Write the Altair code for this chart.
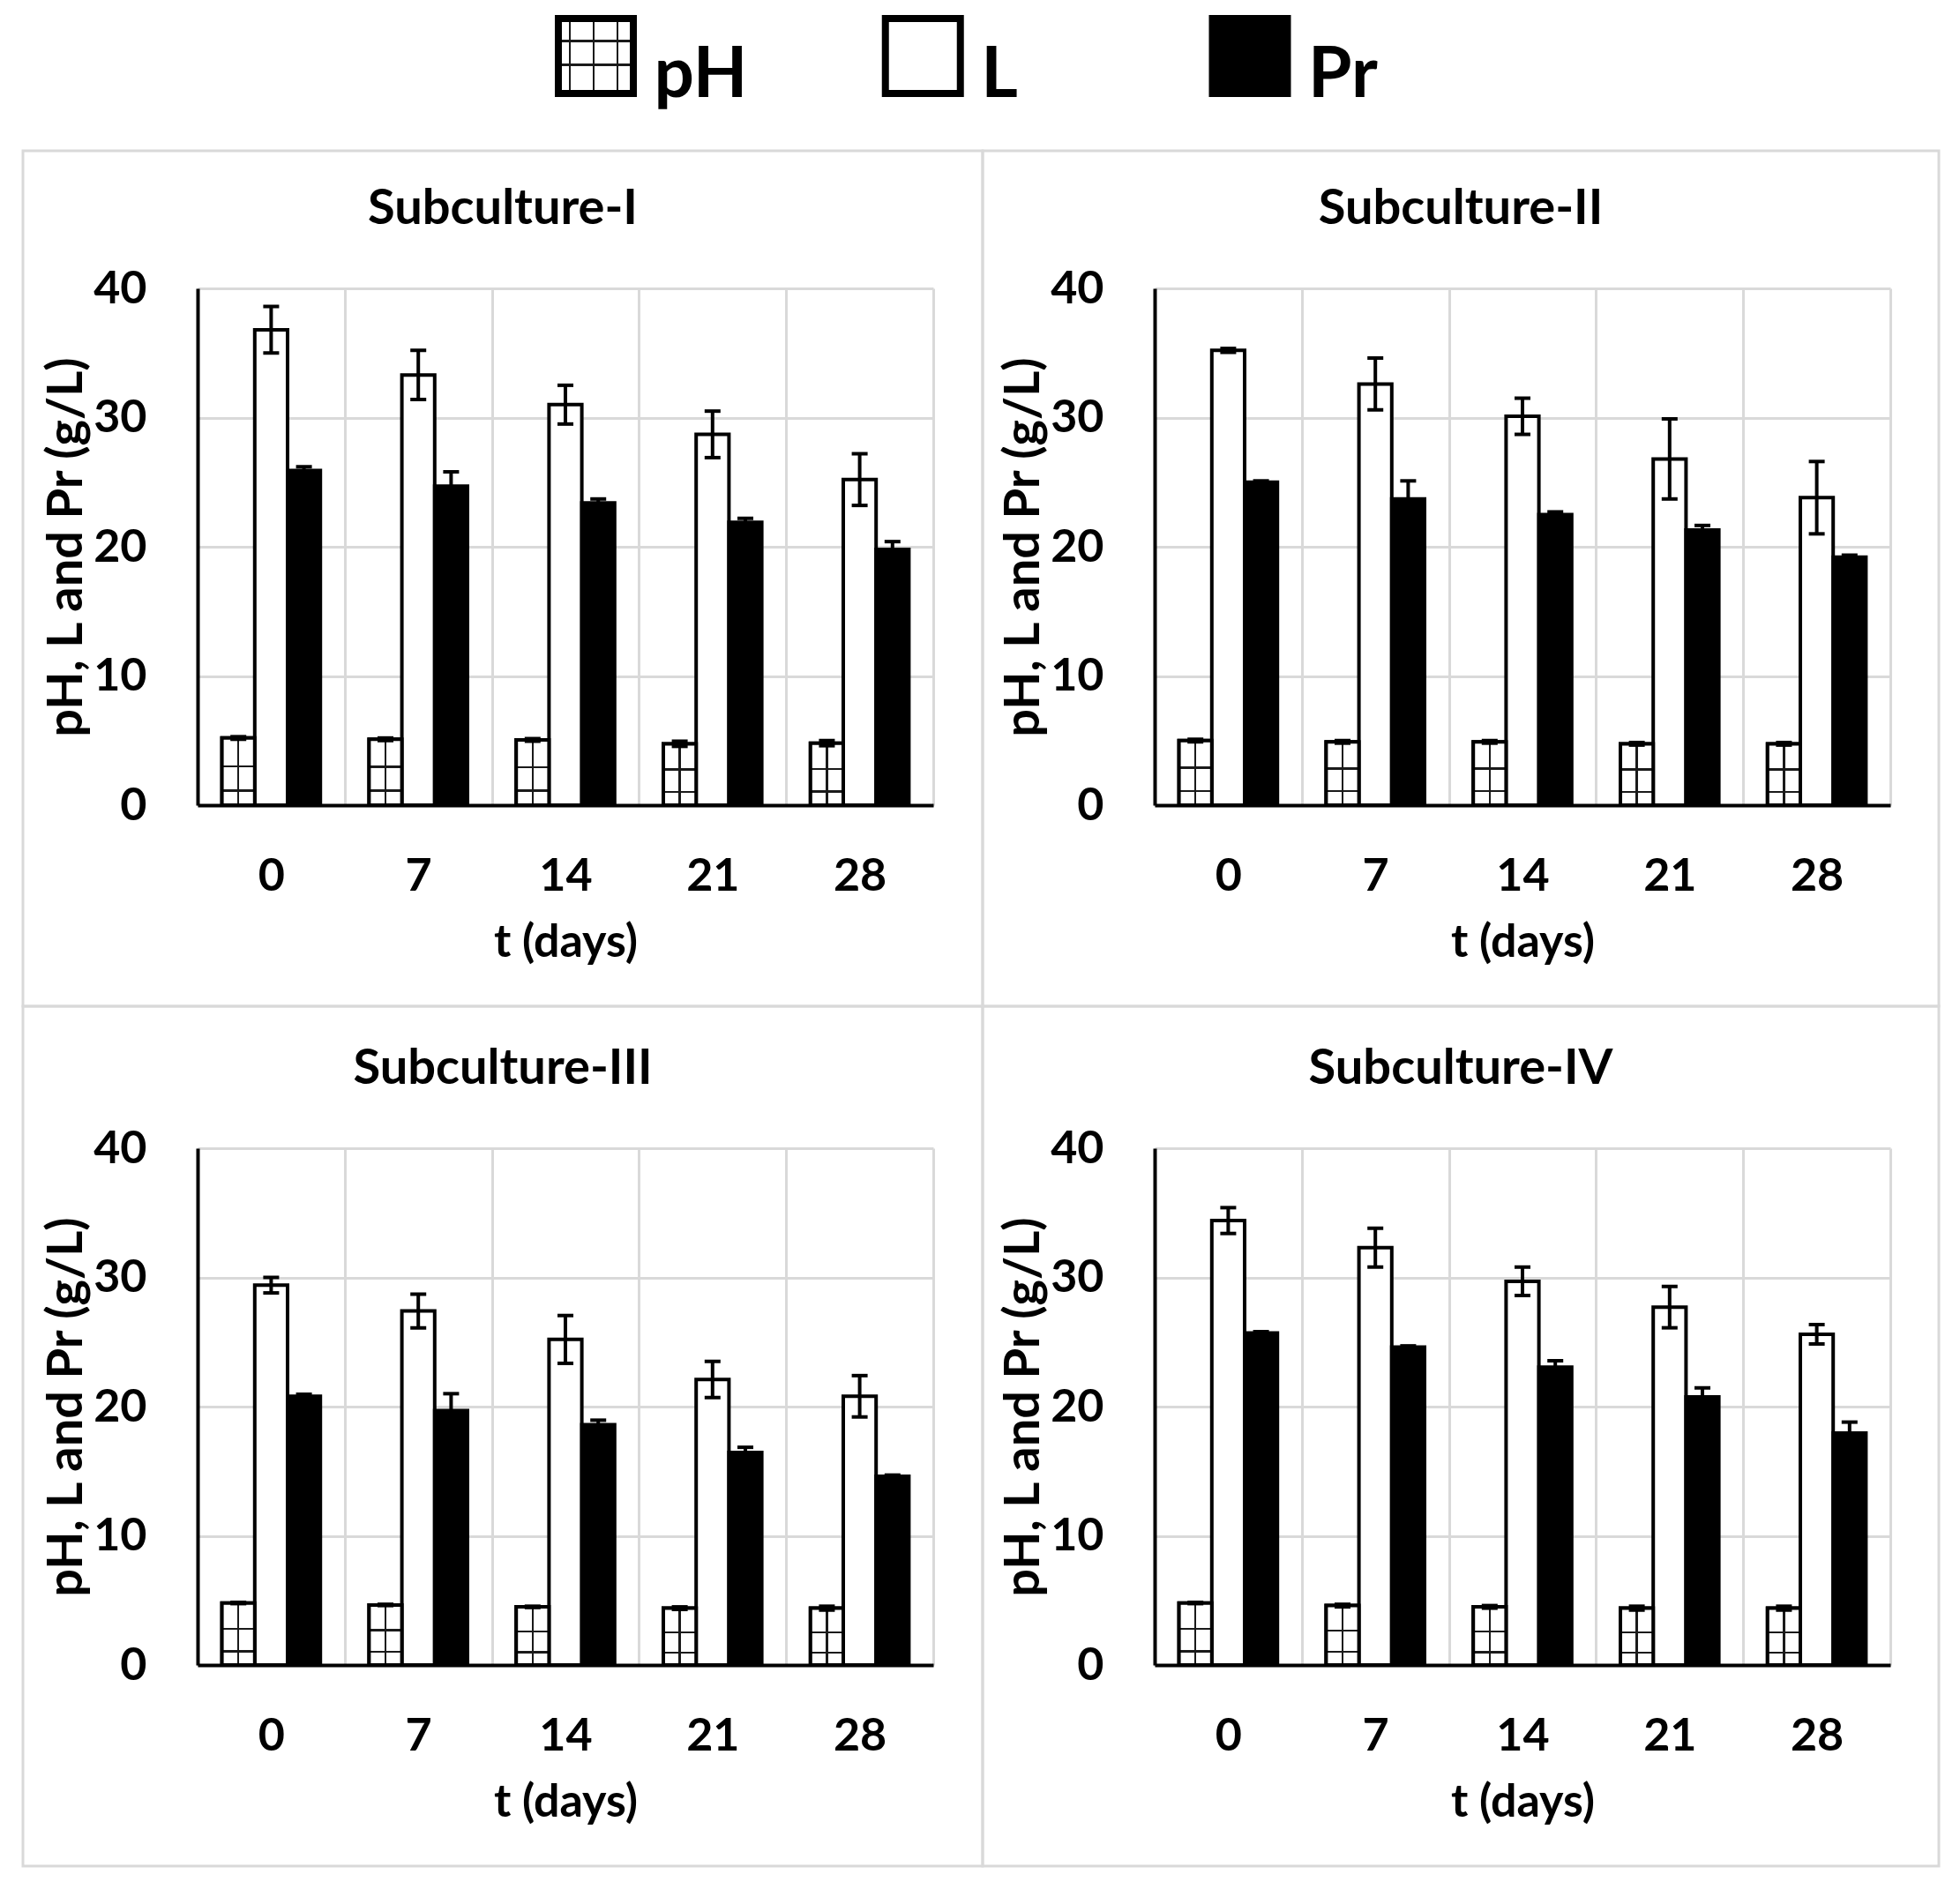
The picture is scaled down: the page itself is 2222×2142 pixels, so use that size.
import altair as alt
import pandas as pd

# ---------------- data ----------------
days = ["0", "7", "14", "21", "28"]
series = ["pH", "L", "Pr"]
titles = ["Subculture-I", "Subculture-II", "Subculture-III", "Subculture-IV"]

ph_mean = [
    [5.2, 5.1, 5.05, 4.75, 4.8],
    [5.0, 4.9, 4.9, 4.75, 4.75],
    [4.8, 4.65, 4.5, 4.4, 4.4],
    [4.8, 4.6, 4.5, 4.4, 4.4],
]
ph_err = [
    [0.1, 0.1, 0.1, 0.2, 0.2],
    [0.1, 0.1, 0.1, 0.1, 0.1],
    [0.05, 0.05, 0.05, 0.1, 0.15],
    [0.05, 0.1, 0.1, 0.15, 0.15],
]
l_mean = [
    [36.8, 33.3, 31.0, 28.7, 25.2],
    [35.2, 32.6, 30.1, 26.8, 23.8],
    [29.4, 27.4, 25.2, 22.1, 20.8],
    [34.4, 32.3, 29.7, 27.7, 25.6],
]
l_err = [
    [1.8, 1.9, 1.5, 1.8, 2.0],
    [0.15, 2.0, 1.4, 3.1, 2.8],
    [0.6, 1.3, 1.85, 1.4, 1.6],
    [1.0, 1.5, 1.1, 1.6, 0.75],
]
pr_mean = [
    [25.9, 24.7, 23.4, 21.9, 19.8],
    [25.0, 23.7, 22.5, 21.3, 19.2],
    [20.8, 19.7, 18.6, 16.45, 14.6],
    [25.7, 24.6, 23.05, 20.75, 17.95],
]
pr_err = [
    [0.3, 1.1, 0.3, 0.3, 0.6],
    [0.1, 1.4, 0.2, 0.35, 0.15],
    [0.15, 1.3, 0.35, 0.4, 0.1],
    [0.1, 0.1, 0.5, 0.7, 0.85],
]

rows = []
for p, t in enumerate(titles):
    for s, m, e in (("pH", ph_mean[p], ph_err[p]),
                    ("L", l_mean[p], l_err[p]),
                    ("Pr", pr_mean[p], pr_err[p])):
        for d, v, er in zip(days, m, e):
            rows.append(dict(panel=t, day=d, series=s, mean=v, err=er,
                             lo=v - er, hi=v + er))
df = pd.DataFrame(rows)

FONT = "Lato"
W, H = 834, 586
GRID = "#d9d9d9"
CLEAR = "rgba(255,255,255,0)"


def stripes(centers, half, bg, fg="#1a1a1a"):
    stops = [alt.GradientStop(color=bg, offset=0)]
    for c in centers:
        stops += [alt.GradientStop(color=bg, offset=c - half),
                  alt.GradientStop(color=fg, offset=c - half),
                  alt.GradientStop(color=fg, offset=c + half),
                  alt.GradientStop(color=bg, offset=c + half)]
    stops.append(alt.GradientStop(color=bg, offset=1))
    return stops


bar_vlines = alt.LinearGradient(gradient="linear", x1=0, y1=0, x2=1, y2=0,
                                stops=stripes([0.5], 0.03, "white"))
bar_hlines = alt.LinearGradient(gradient="linear", x1=0, y1=0, x2=0, y2=1,
                                stops=stripes([0.42, 0.78], 0.017, CLEAR))
leg_vlines = alt.LinearGradient(gradient="linear", x1=0, y1=0, x2=1, y2=0,
                                stops=stripes([0.117, 0.468, 0.818], 0.017, "white"))
leg_hlines = alt.LinearGradient(gradient="linear", x1=0, y1=0, x2=0, y2=1,
                                stops=stripes([0.282, 0.627], 0.017, CLEAR))

# panel frame box (relative to the plot area)
frames = [(-198, 890, -156, 814), (-195, 889, -156, 814),
          (-198, 890, -161, 814), (-195, 889, -161, 814)]

fill_scale = alt.Scale(domain=series, range=["white", "white", "black"])


def make_legend():
    leg_df = pd.DataFrame({"series": series})
    lx = alt.X("series:N", sort=series, axis=None,
               scale=alt.Scale(type="point", domain=series, range=[451.5, 1193], padding=0))
    ly = -263.5
    base = alt.Chart(leg_df).encode(x=lx)
    outer = base.mark_square(size=93 * 93, color="black", opacity=1, strokeWidth=0).encode(
        y=alt.value(ly))
    inner = base.mark_square(size=77 * 77, opacity=1, strokeWidth=0).encode(
        y=alt.value(ly), fill=alt.Fill("series:N", scale=fill_scale, legend=None))
    ph = base.transform_filter(alt.datum.series == "pH")
    v = ph.mark_square(size=77 * 77, fill=leg_vlines, strokeWidth=0, opacity=1).encode(
        y=alt.value(ly))
    h = ph.mark_square(size=77 * 77, fill=leg_hlines, strokeWidth=0, opacity=1).encode(
        y=alt.value(ly))
    txt = base.mark_text(font=FONT, fontSize=80, fontWeight="bold", align="left",
                         baseline="alphabetic", dx=66, color="black").encode(
        y=alt.value(ly + 46.5), text="series:N")
    return alt.layer(outer, inner, v, h, txt)


def make_panel(idx):
    title = titles[idx]
    fx0, fx1, fy0, fy1 = frames[idx]
    d = df[df.panel == title]
    base = alt.Chart(d)
    xaxis = alt.Axis(grid=True, tickBand="extent", labelAngle=0)
    x = alt.X("day:N", sort=days, title="t (days)", axis=xaxis,
              scale=alt.Scale(domain=days, paddingInner=0, paddingOuter=0))
    xo = alt.XOffset("series:N", sort=series,
                     scale=alt.Scale(domain=series, paddingInner=0, paddingOuter=0.742))
    yscale = alt.Scale(domain=[0, 40])
    yaxis = alt.Axis(values=[0, 10, 20, 30, 40], grid=True)
    ytitle = "pH, L and Pr (g/L)"
    y = alt.Y("mean:Q", scale=yscale, axis=yaxis, title=ytitle)
    ylo = alt.Y("lo:Q", scale=yscale, axis=yaxis, title=ytitle)
    yhi = alt.Y("hi:Q", scale=yscale, axis=yaxis, title=ytitle)

    one = alt.Chart(pd.DataFrame({"title": [title]}))
    frame = one.mark_rect(fill="transparent", stroke=GRID, strokeWidth=3).encode(
        x=alt.value(fx0), x2=alt.value(fx1), y=alt.value(fy0), y2=alt.value(fy1))
    ttl = one.mark_text(font=FONT, fontSize=56, fontWeight="bold", align="center",
                        baseline="alphabetic", color="black").encode(
        x=alt.value((fx0 + fx1) / 2), y=alt.value(-73), text="title:N")

    bars = base.mark_bar(stroke="black", strokeWidth=4).encode(
        x=x, xOffset=xo, y=y,
        fill=alt.Fill("series:N", scale=fill_scale, legend=None))
    ph = base.transform_filter(alt.datum.series == "pH")
    ph_v = ph.mark_bar(fill=bar_vlines, strokeWidth=0).encode(x=x, xOffset=xo, y=y)
    ph_h = ph.mark_bar(fill=bar_hlines, stroke="black", strokeWidth=4).encode(
        x=x, xOffset=xo, y=y)
    rule = base.mark_rule(color="black", strokeWidth=4).encode(
        x=x, xOffset=xo, y=ylo, y2="hi:Q")
    cap_lo = base.mark_tick(color="black", size=18, thickness=4, opacity=1).encode(
        x=x, xOffset=xo, y=ylo)
    cap_hi = base.mark_tick(color="black", size=18, thickness=4, opacity=1).encode(
        x=x, xOffset=xo, y=yhi)

    panel = alt.layer(frame, ttl, bars, ph_v, ph_h, rule, cap_lo, cap_hi)
    if idx == 0:
        panel = alt.layer(make_legend(), panel).resolve_scale(x="independent")
    return panel.properties(width=W, height=H)


chart = alt.concat(
    make_panel(0), make_panel(1), make_panel(2), make_panel(3),
    columns=2, spacing={"row": 389, "column": 251}, bounds="flush"
).properties(
    padding={"left": 16, "top": 8, "right": 4, "bottom": 4}
).configure_view(
    stroke="transparent"
).configure_axis(
    domainColor="black", domainWidth=4, gridColor=GRID, gridWidth=3,
    ticks=False, tickSize=0, labelColor="black", titleColor="black",
    labelFont=FONT, titleFont=FONT, labelFontWeight="bold", titleFontWeight="bold",
    labelFontSize=52, titleFontSize=52
).configure_axisX(
    tickBand="extent", grid=True, labelAngle=0, labelBaseline="alphabetic",
    labelPadding=96, titleX=417, titleY=171, titleBaseline="alphabetic"
).configure_axisY(
    grid=True, labelPadding=58, titleX=-132, titleY=293, titleAngle=270,
    titleBaseline="alphabetic", titleAlign="center", titleFontSize=56
)

chart.save("out.html", embed_options={"renderer": "svg", "actions": False})
